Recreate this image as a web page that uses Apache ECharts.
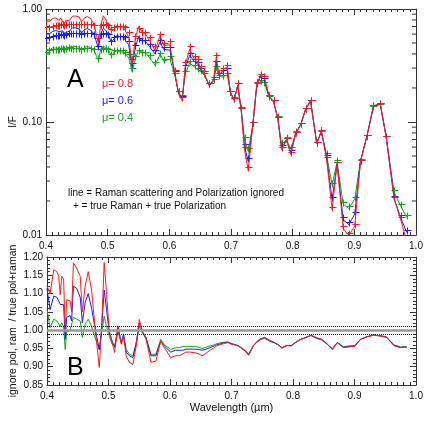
<!DOCTYPE html>
<html>
<head>
<meta charset="utf-8">
<script src="https://cdn.jsdelivr.net/npm/echarts@6/dist/echarts.min.js"></script>
<style>html,body{margin:0;padding:0;background:#fff}#c{width:429px;height:429px}</style>
</head>
<body>
<div id="c"></div>
<script>
const wavelength = [
0.400,0.405,0.411,0.416,0.419,0.4215,0.424,0.427,0.4296,0.432,
0.4377,0.440,0.443,0.448,0.454,0.4575,0.462,0.467,0.4725,0.478,
0.485,0.4886,0.493,0.4966,0.501,0.506,0.510,0.5154,0.5207,0.5246,
0.5288,0.534,0.5396,0.545,0.550,0.5557,0.561,0.569,0.577,0.585,
0.5906,0.601,
0.609,0.615,0.621,0.626,0.633,0.641,0.647,0.652,0.657,0.665,
0.672,0.676,0.681,0.687,0.694,0.699,0.705,0.711,0.7166,0.722,
0.728,0.7355,0.742,0.748,0.754,0.762,0.769,0.776,0.782,0.790,
0.797,0.805,0.813,0.821,0.829,0.839,0.8466,0.855,0.864,0.872,
0.882,0.891,0.9007,0.910,0.9206,0.931,0.942,0.9517,0.9645,0.975,
0.985];

// "+" markers: true Raman + true Polarization
const trueRed = [
0.69,0.70,0.71,0.72,0.72,0.72,0.73,0.73,0.72,0.73,
0.73,0.73,0.73,0.74,0.74,0.73,0.74,0.74,0.74,0.72,
0.55,0.72,0.74,0.74,0.72,0.66,0.70,0.71,0.71,0.71,
0.69,0.62,0.36,0.58,0.68,0.63,0.62,0.56,0.47,0.60,
0.50,0.52,
0.29,0.19,0.165,0.34,0.47,0.38,0.36,0.31,0.28,0.22,
0.25,0.39,0.27,0.30,0.32,0.19,0.163,0.22,0.133,0.060,
0.040,0.10,0.226,0.267,0.255,0.173,0.157,0.111,0.060,0.072,
0.054,0.082,0.097,0.133,0.157,0.066,0.085,0.049,0.0177,0.044,
0.012,0.0104,0.0125,0.046,0.077,0.141,0.147,0.075,0.0217,0.0145,
0.0092];
const trueBlue = [
0.55,0.57,0.58,0.59,0.59,0.59,0.60,0.60,0.59,0.60,
0.61,0.61,0.61,0.61,0.61,0.60,0.61,0.61,0.61,0.60,
0.47,0.60,0.61,0.61,0.60,0.52,0.57,0.58,0.58,0.58,
0.56,0.52,0.33,0.48,0.55,0.53,0.53,0.49,0.43,0.53,
0.46,0.46,
0.28,0.19,0.17,0.32,0.41,0.36,0.34,0.30,0.28,0.22,
0.25,0.35,0.27,0.29,0.30,0.19,0.163,0.22,0.133,0.064,
0.048,0.10,0.225,0.255,0.245,0.172,0.157,0.111,0.062,0.072,
0.056,0.082,0.097,0.133,0.157,0.066,0.085,0.051,0.0217,0.044,
0.0143,0.013,0.016,0.046,0.077,0.140,0.148,0.075,0.022,0.015,
0.011];
const trueGreen = [
0.42,0.43,0.44,0.44,0.44,0.44,0.45,0.45,0.44,0.45,
0.46,0.45,0.45,0.45,0.45,0.44,0.45,0.45,0.45,0.44,
0.37,0.44,0.45,0.45,0.44,0.40,0.43,0.43,0.43,0.43,
0.42,0.40,0.30,0.38,0.43,0.42,0.42,0.39,0.34,0.41,
0.36,0.38,
0.27,0.19,0.175,0.28,0.35,0.32,0.30,0.29,0.27,0.22,
0.24,0.31,0.26,0.26,0.27,0.19,0.165,0.22,0.135,0.074,
0.059,0.10,0.22,0.235,0.228,0.17,0.155,0.112,0.066,0.073,
0.060,0.083,0.097,0.132,0.155,0.067,0.084,0.053,0.029,0.046,
0.0196,0.018,0.0217,0.047,0.077,0.138,0.145,0.075,0.025,0.019,
0.015];

// lines: Raman scattering and Polarization ignored
const ignoredRed = [
0.773,0.77,0.827,0.835,0.826,0.79,0.837,0.832,0.72,0.791,
0.788,0.767,0.864,0.866,0.849,0.767,0.829,0.858,0.821,0.727,
0.494,0.72,0.87,0.818,0.72,0.638,0.657,0.718,0.682,0.699,
0.641,0.565,0.326,0.554,0.70,0.626,0.605,0.511,0.43,0.582,
0.477,0.481,
0.27,0.177,0.154,0.32,0.442,0.356,0.337,0.288,0.262,0.208,
0.238,0.373,0.259,0.289,0.309,0.183,0.156,0.211,0.126,0.0566,
0.0372,0.0957,0.219,0.261,0.25,0.168,0.152,0.107,0.0571,0.069,
0.0517,0.0793,0.0946,0.130,0.155,0.0646,0.0829,0.0472,0.0168,0.0425,
0.0114,0.0099,0.012,0.0449,0.0756,0.139,0.145,0.0736,0.0208,0.0138,
0.0088];
const ignoredBlue = [
0.613,0.602,0.634,0.643,0.637,0.631,0.645,0.642,0.575,0.621,
0.634,0.625,0.683,0.68,0.665,0.612,0.656,0.671,0.647,0.604,
0.445,0.60,0.677,0.647,0.597,0.504,0.543,0.586,0.56,0.574,
0.526,0.484,0.305,0.464,0.561,0.527,0.519,0.456,0.40,0.514,
0.44,0.432,
0.265,0.18,0.161,0.303,0.389,0.341,0.322,0.284,0.265,0.209,
0.239,0.336,0.26,0.28,0.29,0.183,0.156,0.211,0.126,0.0604,
0.0448,0.0958,0.218,0.249,0.24,0.167,0.152,0.107,0.059,0.069,
0.0536,0.0793,0.0946,0.130,0.155,0.0645,0.0829,0.0491,0.0206,0.0425,
0.0136,0.0124,0.0153,0.0449,0.0756,0.138,0.146,0.0737,0.0211,0.0143,
0.0105];
const ignoredGreen = [
0.444,0.433,0.453,0.451,0.449,0.444,0.459,0.455,0.417,0.448,
0.46,0.448,0.466,0.464,0.461,0.431,0.457,0.464,0.455,0.431,
0.35,0.436,0.467,0.455,0.433,0.384,0.412,0.428,0.415,0.421,
0.398,0.374,0.279,0.365,0.434,0.416,0.412,0.364,0.318,0.40,
0.346,0.36,
0.257,0.181,0.167,0.267,0.334,0.306,0.286,0.276,0.257,0.211,
0.23,0.299,0.251,0.251,0.261,0.183,0.159,0.211,0.129,0.07,
0.0552,0.0958,0.213,0.229,0.223,0.165,0.15,0.1075,0.0627,0.07,
0.0575,0.0803,0.0946,0.129,0.153,0.0655,0.0817,0.051,0.0276,0.0444,
0.0187,0.0172,0.0208,0.0458,0.0756,0.136,0.143,0.0735,0.024,0.0181,
0.0143];

// panel B: ignore pol, ram / true pol+raman
const ratioRed = [
1.12,1.10,1.165,1.16,1.147,1.097,1.147,1.14,1.0,1.083,
1.08,1.05,1.184,1.17,1.147,1.05,1.12,1.16,1.11,1.01,
0.898,1.0,1.185,1.106,1.0,0.966,0.939,1.011,0.961,0.984,
0.929,0.912,0.906,0.956,1.029,0.994,0.975,0.912,0.915,0.97,
0.953,0.925,
0.93,0.93,0.935,0.94,0.94,0.938,0.935,0.93,0.935,0.945,
0.952,0.957,0.96,0.963,0.966,0.962,0.96,0.957,0.95,0.943,
0.931,0.957,0.968,0.976,0.979,0.97,0.966,0.96,0.952,0.958,
0.957,0.967,0.975,0.98,0.986,0.979,0.975,0.963,0.947,0.966,
0.952,0.954,0.956,0.976,0.982,0.986,0.984,0.981,0.957,0.952,
0.954];
const ratioBlue = [
1.115,1.056,1.093,1.09,1.08,1.07,1.075,1.07,0.975,1.035,
1.04,1.025,1.12,1.115,1.09,1.02,1.075,1.1,1.06,1.007,
0.947,1.0,1.11,1.06,0.995,0.97,0.953,1.01,0.966,0.99,
0.94,0.93,0.925,0.966,1.02,0.995,0.98,0.93,0.93,0.97,
0.957,0.94,
0.945,0.945,0.945,0.948,0.948,0.948,0.947,0.945,0.947,0.952,
0.957,0.96,0.962,0.965,0.967,0.963,0.96,0.957,0.95,0.943,
0.933,0.958,0.97,0.977,0.98,0.972,0.967,0.96,0.952,0.958,
0.957,0.967,0.975,0.98,0.986,0.978,0.975,0.963,0.948,0.966,
0.953,0.955,0.957,0.975,0.982,0.987,0.985,0.982,0.958,0.953,
0.954];
const ratioGreen = [
1.056,1.007,1.03,1.025,1.02,1.01,1.02,1.01,0.947,0.995,
1.0,0.995,1.035,1.03,1.025,0.98,1.016,1.03,1.01,0.98,
0.947,0.99,1.038,1.011,0.984,0.961,0.957,0.995,0.966,0.98,
0.947,0.934,0.93,0.96,1.01,0.99,0.98,0.934,0.934,0.975,
0.96,0.947,
0.952,0.952,0.955,0.955,0.955,0.955,0.953,0.95,0.952,0.957,
0.96,0.963,0.965,0.967,0.968,0.964,0.961,0.958,0.952,0.945,
0.935,0.958,0.968,0.975,0.977,0.97,0.966,0.96,0.95,0.958,
0.958,0.968,0.975,0.98,0.985,0.977,0.973,0.962,0.95,0.966,
0.955,0.957,0.958,0.975,0.982,0.986,0.984,0.98,0.96,0.954,
0.955];

const logMinorTicks = [0.02,0.03,0.04,0.05,0.06,0.07,0.08,0.09,0.2,0.3,0.4,0.5,0.6,0.7,0.8,0.9];
const refLines = [1.0, 1.01, 0.99];
const muLabels = ['\u03bc= 0.8', '\u03bc= 0.6', '\u03bc= 0.4'];

const RED = '#ff1a1a', BLUE = '#1a1aff', GREEN = '#12a812';
const AX = '#333';
const FONT = '"Liberation Sans", Arial, Helvetica, sans-serif';

const pairs = arr => wavelength.map((w, i) => [w, arr[i]]);

function xAxisDef(gridIndex, pos, showLabel, name) {
  return {
    type: 'value', gridIndex, position: pos, min: 0.4, max: 1.0, interval: 0.1,
    axisLine: {show: true, onZero: false, lineStyle: {color: AX, width: 1}},
    axisTick: {show: true, inside: true, length: 6, lineStyle: {color: AX}},
    minorTick: {show: true, splitNumber: 10, length: 3, lineStyle: {color: AX}},
    splitLine: {show: false},
    axisLabel: {show: showLabel, formatter: v => v.toFixed(1), color: '#111', fontSize: 10, fontFamily: FONT, margin: 6},
    name: name || '', nameLocation: 'middle', nameGap: 17,
    nameTextStyle: {color: '#111', fontSize: 11, fontFamily: FONT}
  };
}

// "+" markers drawn through the axes' coordinate system, snapped to pixel centres
function markerSeries(arr, color) {
  return {
    type: 'custom', xAxisIndex: 0, yAxisIndex: 0, data: pairs(arr), clip: true, silent: true,
    renderItem: (params, api) => {
      const p = api.coord([api.value(0), api.value(1)]);
      const cx = Math.round(p[0]) + 0.5, cy = Math.round(p[1]) + 0.5;
      return {type: 'group', children: [
        {type: 'line', shape: {x1: cx - 3, y1: cy, x2: cx + 4, y2: cy}, style: {stroke: color, lineWidth: 1}},
        {type: 'line', shape: {x1: cx, y1: cy - 3, x2: cx, y2: cy + 4}, style: {stroke: color, lineWidth: 1}}
      ]};
    }
  };
}

function lineSeries(arr, color, xi, yi) {
  return {
    type: 'line', xAxisIndex: xi, yAxisIndex: yi, data: pairs(arr),
    showSymbol: false, symbol: 'none', clip: true,
    lineStyle: {color: color, width: 1}
  };
}

const option = {
  animation: false,
  backgroundColor: '#fff',
  grid: [
    {left: 43, top: 9, width: 373, height: 226},
    {left: 43, top: 257, width: 373, height: 128}
  ],
  xAxis: [
    xAxisDef(0, 'bottom', true),
    xAxisDef(0, 'top', false),
    xAxisDef(1, 'bottom', true, 'Wavelength (\u00b5m)'),
    xAxisDef(1, 'top', false)
  ],
  yAxis: [
    {
      type: 'log', logBase: 10, gridIndex: 0, position: 'left', min: 0.01, max: 1,
      axisLine: {show: true, lineStyle: {color: AX}},
      axisTick: {show: true, inside: true, length: 8, lineStyle: {color: AX}},
      splitLine: {show: false},
      axisLabel: {formatter: v => Number(v).toFixed(2), color: '#111', fontSize: 10, fontFamily: FONT, margin: 4},
      name: 'I/F', nameLocation: 'middle', nameGap: 28, nameMoveOverlap: false,
      nameTextStyle: {color: '#111', fontSize: 10, fontFamily: FONT}
    },
    {
      type: 'log', logBase: 10, gridIndex: 0, position: 'right', min: 0.01, max: 1,
      axisLine: {show: true, lineStyle: {color: AX}},
      axisTick: {show: true, inside: true, length: 8, lineStyle: {color: AX}},
      splitLine: {show: false}, axisLabel: {show: false}
    },
    {
      type: 'value', gridIndex: 1, position: 'left', min: 0.85, max: 1.2, interval: 0.05,
      axisLine: {show: true, onZero: false, lineStyle: {color: AX}},
      axisTick: {show: true, inside: true, length: 6, lineStyle: {color: AX}},
      minorTick: {show: true, splitNumber: 5, length: 3, lineStyle: {color: AX}},
      splitLine: {show: false},
      axisLabel: {formatter: v => v.toFixed(2), color: '#111', fontSize: 10, fontFamily: FONT, margin: 4},
      name: 'ignore pol, ram  / true pol+raman', nameLocation: 'middle', nameGap: 28, nameMoveOverlap: false,
      nameTextStyle: {color: '#111', fontSize: 10.5, fontFamily: FONT}
    },
    {
      type: 'value', gridIndex: 1, position: 'right', min: 0.85, max: 1.2, interval: 0.05,
      axisLine: {show: true, onZero: false, lineStyle: {color: AX}},
      axisTick: {show: true, inside: true, length: 6, lineStyle: {color: AX}},
      minorTick: {show: true, splitNumber: 5, length: 3, lineStyle: {color: AX}},
      splitLine: {show: false}, axisLabel: {show: false}
    }
  ],
  graphic: [
    {type: 'text', x: 67, y: 80, style: {text: 'A', font: '25px ' + FONT, fill: '#000', verticalAlign: 'middle'}},
    {type: 'text', x: 102, y: 84, style: {text: muLabels[0], font: '11px ' + FONT, fill: RED, verticalAlign: 'middle'}},
    {type: 'text', x: 102, y: 101, style: {text: muLabels[1], font: '11px ' + FONT, fill: BLUE, verticalAlign: 'middle'}},
    {type: 'text', x: 102, y: 118, style: {text: muLabels[2], font: '11px ' + FONT, fill: GREEN, verticalAlign: 'middle'}},
    {type: 'text', x: 68, y: 193, style: {text: 'line = Raman scattering and Polarization ignored', font: '10px ' + FONT, fill: '#111', verticalAlign: 'middle'}},
    {type: 'text', x: 73, y: 206, style: {text: '+ = true Raman + true Polarization', font: '10px ' + FONT, fill: '#111', verticalAlign: 'middle'}},
    {type: 'text', x: 67, y: 368, style: {text: 'B', font: '25px ' + FONT, fill: '#000', verticalAlign: 'middle'}}
  ],
  series: [
    {
      type: 'custom', xAxisIndex: 0, yAxisIndex: 0, silent: true, clip: false,
      data: logMinorTicks.map(v => [0.7, v]),
      renderItem: (params, api) => {
        const v = api.value(1);
        const pl = api.coord([0.4, v]);
        const pr = api.coord([1.0, v]);
        return {type: 'group', children: [
          {type: 'line', shape: {x1: pl[0], y1: pl[1], x2: pl[0] + 4, y2: pl[1]}, style: {stroke: AX, lineWidth: 1}},
          {type: 'line', shape: {x1: pr[0], y1: pr[1], x2: pr[0] - 4, y2: pr[1]}, style: {stroke: AX, lineWidth: 1}}
        ]};
      }
    },
    lineSeries(ignoredGreen, GREEN, 0, 0),
    lineSeries(ignoredBlue, BLUE, 0, 0),
    lineSeries(ignoredRed, RED, 0, 0),
    markerSeries(trueGreen, GREEN),
    markerSeries(trueBlue, BLUE),
    markerSeries(trueRed, RED),
    {
      type: 'line', xAxisIndex: 2, yAxisIndex: 2, data: [], symbol: 'none', silent: true,
      markLine: {
        silent: true, symbol: 'none', label: {show: false},
        data: [
          {yAxis: refLines[0], lineStyle: {color: '#999', width: 2.5, type: 'solid'}},
          {yAxis: refLines[1], lineStyle: {color: '#111', width: 1, type: 'dotted'}},
          {yAxis: refLines[2], lineStyle: {color: '#111', width: 1, type: 'dotted'}}
        ]
      }
    },
    lineSeries(ratioGreen, GREEN, 2, 2),
    lineSeries(ratioBlue, BLUE, 2, 2),
    lineSeries(ratioRed, RED, 2, 2)
  ]
};

const chart = echarts.init(document.getElementById('c'), null, {renderer: 'canvas'});
chart.setOption(option);
</script>
</body>
</html>
